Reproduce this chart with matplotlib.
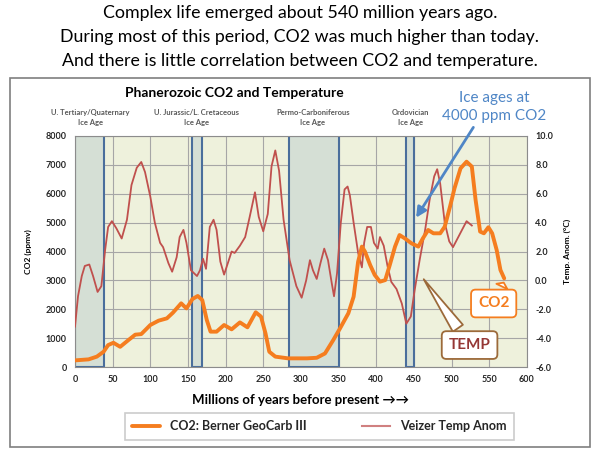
import matplotlib
matplotlib.use("Agg")
import matplotlib.pyplot as plt
from matplotlib.patches import Rectangle

plt.rcParams['font.family'] = ['Lato', 'DejaVu Sans']

# -------------------- Data --------------------

co2_myr = [0, 18, 29, 38, 44, 51, 60, 71, 80, 88, 100, 111, 122, 130, 141, 148, 156,
           163, 169, 175, 180, 188, 198, 208, 219, 229, 240, 247, 253, 258, 266, 283,
           308, 321, 332, 343, 352, 363, 370, 376, 381, 385, 392, 398, 405, 412, 418,
           425, 431, 438, 447, 456, 462, 469, 476, 485, 491, 498, 504, 512, 520, 527,
           532, 538, 543, 549, 554, 560, 565, 570]
co2_ppm = [230, 265, 360, 530, 760, 840, 700, 935, 1120, 1140, 1455, 1605, 1685, 1880,
           2205, 2030, 2355, 2460, 2320, 1630, 1225, 1225, 1455, 1305, 1545, 1375, 1895,
           1745, 1165, 530, 360, 300, 300, 320, 470, 935, 1340, 1860, 2435, 3650, 4170,
           4000, 3530, 3190, 2955, 3010, 3530, 4170, 4570, 4455, 4280, 4170, 4455, 4745,
           4630, 4630, 4860, 5550, 6190, 6880, 7110, 6940, 5785, 4690, 4630, 4840, 4630,
           4050, 3360, 3070]

temp_myr = [0, 4, 9, 13, 19, 24, 30, 35, 40, 44, 49, 55, 62, 69, 75, 82, 88, 93, 100,
            106, 113, 117, 124, 129, 135, 139, 144, 148, 154, 162, 166, 170, 174, 179,
            184, 188, 193, 198, 203, 208, 212, 219, 226, 232, 239, 244, 250, 256, 261,
            266, 271, 277, 285, 294, 301, 307, 312, 316, 321, 326, 331, 336, 341, 344,
            348, 353, 358, 362, 365, 370, 376, 381, 384, 388, 393, 397, 402, 405, 410,
            415, 420, 427, 434, 440, 446, 451, 458, 465, 471, 477, 481, 485, 491, 497,
            502, 509, 516, 520, 527]
temp_anom = [-3.2, -1.1, 0.3, 1.0, 1.1, 0.3, -0.8, -0.4, 2.1, 3.7, 4.1, 3.6, 2.9, 4.2,
             6.6, 7.8, 8.2, 7.5, 5.8, 4.0, 2.6, 2.3, 1.2, 0.6, 1.6, 3.0, 3.5, 2.6, 0.7,
             0.3, 0.7, 1.5, 0.8, 3.7, 4.2, 3.5, 1.3, 0.4, 1.2, 2.0, 1.9, 2.4, 3.0, 4.4,
             6.1, 4.4, 3.4, 4.6, 7.9, 9.0, 7.6, 4.2, 1.4, -0.4, -1.2, 0.0, 1.4, 0.7, 0.1,
             1.2, 2.2, 1.4, -0.2, -1.1, 0.5, 4.0, 6.3, 6.5, 5.9, 4.0, 1.9, 0.9, 2.6, 3.7,
             3.7, 2.6, 2.2, 3.0, 2.4, 1.0, -0.1, -0.6, -1.6, -3.0, -2.5, -0.7, 1.5, 3.5,
             5.6, 7.2, 7.7, 6.7, 4.0, 2.7, 2.3, 3.0, 3.7, 4.1, 3.8]

ice_ages = [(0, 38), (155, 168), (284, 351), (440, 450)]
ice_labels = ["U. Tertiary/Quaternary\nIce Age", "U. Jurassic/L. Cretaceous\nIce Age",
              "Permo-Carboniferous\nIce Age", "Ordovician\nIce Age"]
ice_label_x = [20, 162, 316, 445]

x_ticks = list(range(0, 601, 50))
co2_ticks = list(range(0, 8001, 1000))
temp_ticks = [-6.0, -4.0, -2.0, 0.0, 2.0, 4.0, 6.0, 8.0, 10.0]

# -------------------- Figure --------------------

ORANGE = "#f57d1f"
ROSE = "#c0504d"
BLUE = "#4f86c6"

fig = plt.figure(figsize=(6, 4.5), dpi=100)

headline = ("Complex life emerged about 540 million years ago.\n"
            "During most of this period, CO2 was much higher than today.\n"
            "And there is little correlation between CO2 and temperature.")
fig.text(0.5, 0.988, headline, ha="center", va="top", fontsize=12.8,
         linespacing=1.6, color="black")

fig.patches.append(Rectangle((0.017, 0.007), 0.966, 0.82, transform=fig.transFigure,
                             fill=False, ec="#7f7f7f", lw=1.2))

ax = fig.add_axes([0.125, 0.1844, 0.753, 0.5134])
ax.set_facecolor("#eef1dc")
ax.set_xlim(0, 600)
ax.set_ylim(0, 8000)
ax.set_xticks(x_ticks)
ax.set_yticks(co2_ticks)
ax.grid(True, color="#a6a6a6", lw=0.8)
ax.set_axisbelow(True)
for s in ax.spines.values():
    s.set_color("#8c8c8c")
ax.tick_params(length=0, labelsize=6.5, colors="#262626", pad=6)
for lab in ax.get_xticklabels() + ax.get_yticklabels():
    lab.set_fontweight("bold")
ax.set_ylabel("CO2 (ppmv)", fontsize=6, fontweight="bold", labelpad=10)
ax.set_xlabel("Millions of years before present \u2192\u2192", fontsize=9.5,
              fontweight="bold", labelpad=7)

for (a, b) in ice_ages:
    ax.add_patch(Rectangle((a, 0), b - a, 8000, fc="#d5dfd5", ec="#4a6e9c",
                           lw=1.5, zorder=1.5))

for lab, xl in zip(ice_labels, ice_label_x):
    ax.text(xl, 8650, lab, ha="center", va="center", fontsize=5.5,
            fontweight="bold", color="#595959", linespacing=1.5, clip_on=False)

ax.text(212, 9480, "Phanerozoic CO2 and Temperature", ha="center", va="center",
        fontsize=10, fontweight="bold", clip_on=False)

ax2 = ax.twinx()
ax2.set_ylim(-6, 10)
ax2.set_yticks(temp_ticks)
ax2.set_yticklabels([f"{t:.1f}" for t in temp_ticks])
ax2.tick_params(length=0, labelsize=6.5, colors="#262626", pad=6)
for lab in ax2.get_yticklabels():
    lab.set_fontweight("bold")
for s in ax2.spines.values():
    s.set_visible(False)
ax2.set_ylabel("Temp. Anom. (\u00b0C)", fontsize=6, fontweight="bold", labelpad=8)

# temperature uses the right axis scale but lives in the main axes,
# so it sits above the ice age bands and under the CO2 line
ax.set_zorder(ax2.get_zorder() + 1)
l2, = ax.plot(temp_myr, temp_anom, color=ROSE, lw=1.3, solid_joinstyle="round",
              transform=ax2.transData, label="Veizer Temp Anom", zorder=3)
l1, = ax.plot(co2_myr, co2_ppm, color=ORANGE, lw=2.8, solid_joinstyle="round",
              solid_capstyle="round", label="CO2: Berner GeoCarb III", zorder=4)

# callouts
ax.annotate("CO2", xy=(571, 3010), xytext=(556, 2200), ha="center", va="center",
            fontsize=11, fontweight="bold", color=ORANGE, zorder=6,
            bbox=dict(boxstyle="round,pad=0.45,rounding_size=0.3", fc="white",
                      ec=ORANGE, lw=1.3),
            arrowprops=dict(arrowstyle="wedge,tail_width=0.8", fc="white",
                            ec=ORANGE, lw=1.3))
ax.annotate("TEMP", xy=(461, 3120), xytext=(524, 760), ha="center", va="center",
            fontsize=11, fontweight="bold", color="#953735", zorder=6,
            bbox=dict(boxstyle="round,pad=0.45,rounding_size=0.3", fc="white",
                      ec="#9c6a3a", lw=1.3),
            arrowprops=dict(arrowstyle="wedge,tail_width=0.8", fc="white",
                            ec="#9c6a3a", lw=1.3))

ax.text(557, 9000, "Ice ages at\n4000 ppm CO2", ha="center", va="center",
        fontsize=11, color=BLUE, linespacing=1.3, clip_on=False)
ax.annotate("", xy=(451, 5090), xytext=(531, 8380), annotation_clip=False,
            arrowprops=dict(arrowstyle="-|>,head_length=0.6,head_width=0.3",
                            color=BLUE, lw=2), zorder=7)

leg = fig.legend(handles=[l1, l2], labels=["CO2: Berner GeoCarb III", "Veizer Temp Anom"],
                 loc="center", bbox_to_anchor=(0.532, 0.053), ncol=2, fontsize=9,
                 frameon=True, fancybox=False, edgecolor="#bfbfbf",
                 handlelength=2.2, columnspacing=4.5, borderpad=0.6)
leg.get_frame().set_linewidth(1.2)
for t in leg.get_texts():
    t.set_fontweight("bold")
    t.set_color("#262626")
leg.legend_handles[1].set_linewidth(1.5)
leg.legend_handles[1].set_color("#d08080")

fig.savefig("out.png", dpi=100)
